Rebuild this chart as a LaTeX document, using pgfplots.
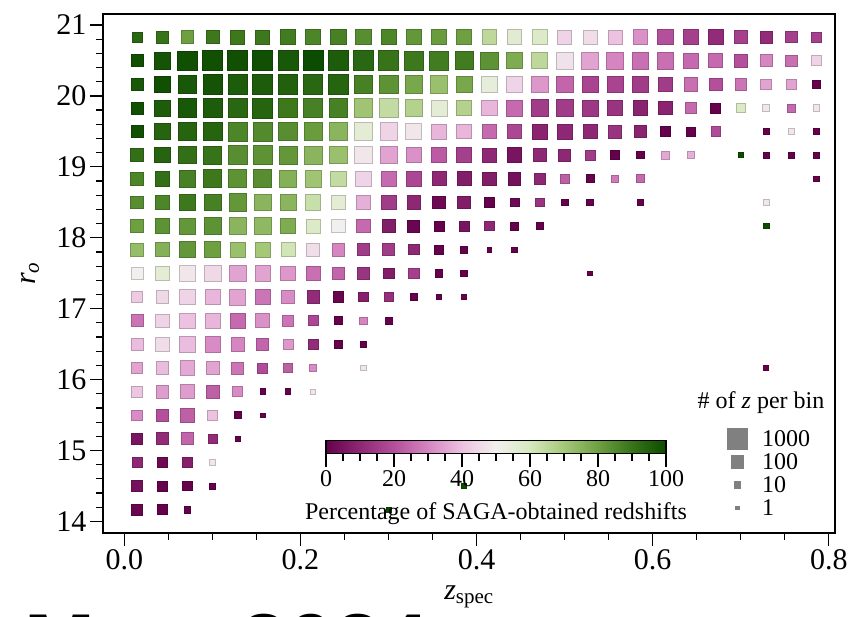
\documentclass[border=0pt]{standalone}
\usepackage{fontspec}
\setmainfont{Liberation Serif}
\newfontfamily\capfont{Liberation Sans}
\usepackage{pgfplots}
\pgfplotsset{compat=1.18}
\usepackage{pgfplotstable}
\definecolor{leggray}{RGB}{128,128,128}
\pgfplotsset{colormap={bam}{rgb255=(101,2,75) rgb255=(142,40,117) rgb255=(180,80,155) rgb255=(214,133,193) rgb255=(236,194,224) rgb255=(242,240,238) rgb255=(214,232,190) rgb255=(165,200,120) rgb255=(110,160,65) rgb255=(55,115,25) rgb255=(12,76,0)}}
\newcommand{\legsq}[1]{\addlegendimage{legend image code/.code={\path[draw=none,fill=none] (-11.5pt,-11.5pt) rectangle (11.5pt,11.5pt); \fill[leggray,draw=none] (-#1pt,-#1pt) rectangle (#1pt,#1pt);}}}

\pgfplotstableread{
z r n p
0.0143 20.833 30 93
0.0429 20.833 67 90
0.0714 20.833 85 80
0.1000 20.833 107 89
0.1286 20.833 133 89
0.1571 20.833 133 89
0.1857 20.833 164 88
0.2143 20.833 200 86
0.2429 20.833 200 87
0.2714 20.833 200 84
0.3000 20.833 200 86
0.3286 20.833 200 82
0.3571 20.833 200 81
0.3857 20.833 200 80
0.4143 20.833 164 65
0.4429 20.833 164 56
0.4714 20.833 164 58
0.5000 20.833 133 44
0.5286 20.833 133 46
0.5571 20.833 133 40
0.5857 20.833 164 32
0.6143 20.833 200 20
0.6429 20.833 164 16
0.6714 20.833 164 11
0.7000 20.833 85 16
0.7286 20.833 67 11
0.7571 20.833 52 16
0.7857 20.833 30 16
0.0143 20.5 67 99
0.0429 20.5 292 98
0.0714 20.5 567 99
0.1000 20.5 660 99
0.1286 20.5 660 99
0.1571 20.5 660 99
0.1857 20.5 660 97
0.2143 20.5 660 100
0.2429 20.5 660 96
0.2714 20.5 660 93
0.3000 20.5 660 90
0.3286 20.5 485 89
0.3571 20.5 485 88
0.3857 20.5 412 88
0.4143 20.5 348 83
0.4429 20.5 243 77
0.4714 20.5 243 65
0.5000 20.5 292 47
0.5286 20.5 292 35
0.5571 20.5 292 30
0.5857 20.5 292 26
0.6143 20.5 292 26
0.6429 20.5 200 25
0.6714 20.5 133 25
0.7000 20.5 107 20
0.7286 20.5 67 30
0.7571 20.5 52 26
0.7857 20.5 30 44
0.0143 20.167 67 97
0.0429 20.167 292 99
0.0714 20.167 485 97
0.1000 20.167 567 98
0.1286 20.167 567 96
0.1571 20.167 660 96
0.1857 20.167 567 95
0.2143 20.167 567 93
0.2429 20.167 567 94
0.2714 20.167 485 87
0.3000 20.167 485 83
0.3286 20.167 348 78
0.3571 20.167 348 72
0.3857 20.167 243 78
0.4143 20.167 243 54
0.4429 20.167 243 44
0.4714 20.167 292 33
0.5000 20.167 292 24
0.5286 20.167 243 17
0.5571 20.167 243 17
0.5857 20.167 243 15
0.6143 20.167 164 15
0.6429 20.167 107 26
0.6714 20.167 85 20
0.7000 20.167 52 27
0.7286 20.167 39 35
0.7571 20.167 22 35
0.7857 20.167 11 0
0.0143 19.833 67 99
0.0429 19.833 243 96
0.0714 19.833 485 97
0.1000 19.833 567 96
0.1286 19.833 567 93
0.1571 19.833 660 94
0.1857 19.833 567 89
0.2143 19.833 567 87
0.2429 19.833 485 87
0.2714 19.833 485 71
0.3000 19.833 485 64
0.3286 19.833 292 67
0.3571 19.833 243 55
0.3857 19.833 200 67
0.4143 19.833 200 38
0.4429 19.833 243 25
0.4714 19.833 292 15
0.5000 19.833 292 15
0.5286 19.833 243 14
0.5571 19.833 200 13
0.5857 19.833 164 9
0.6143 19.833 107 9
0.6429 19.833 52 25
0.6714 19.833 30 0
0.7000 19.833 16 58
0.7286 19.833 7 48
0.7571 19.833 11 25
0.7857 19.833 5 48
0.0143 19.5 67 99
0.0429 19.5 243 94
0.0714 19.5 348 94
0.1000 19.5 485 94
0.1286 19.5 567 86
0.1571 19.5 567 85
0.1857 19.5 485 84
0.2143 19.5 485 81
0.2429 19.5 412 75
0.2714 19.5 412 55
0.3000 19.5 348 44
0.3286 19.5 243 48
0.3571 19.5 200 38
0.3857 19.5 164 38
0.4143 19.5 164 25
0.4429 19.5 164 18
0.4714 19.5 200 9
0.5000 19.5 200 10
0.5286 19.5 133 10
0.5571 19.5 107 13
0.5857 19.5 67 9
0.6143 19.5 30 0
0.6429 19.5 16 0
0.6714 19.5 22 19
0.7286 19.5 2 0
0.7571 19.5 2 48
0.7857 19.5 2 0
0.0143 19.167 85 91
0.0429 19.167 200 94
0.0714 19.167 348 91
0.1000 19.167 412 90
0.1286 19.167 485 84
0.1571 19.167 485 83
0.1857 19.167 412 82
0.2143 19.167 412 75
0.2429 19.167 348 72
0.2714 19.167 348 48
0.3000 19.167 292 35
0.3286 19.167 200 32
0.3571 19.167 200 22
0.3857 19.167 200 16
0.4143 19.167 133 10
0.4429 19.167 164 5
0.4714 19.167 107 10
0.5000 19.167 67 10
0.5286 19.167 30 15
0.5571 19.167 16 0
0.5857 19.167 7 0
0.6143 19.167 11 36
0.6429 19.167 7 37
0.7000 19.167 1 100
0.7286 19.167 2 0
0.7571 19.167 2 0
0.7857 19.167 2 0
0.0143 18.833 107 86
0.0429 18.833 164 91
0.0714 18.833 292 87
0.1000 18.833 412 89
0.1286 18.833 412 83
0.1571 18.833 412 84
0.1857 18.833 348 76
0.2143 18.833 292 71
0.2429 18.833 200 64
0.2714 18.833 200 44
0.3000 18.833 200 25
0.3286 18.833 164 18
0.3571 18.833 133 10
0.3857 18.833 133 7
0.4143 18.833 107 7
0.4429 18.833 85 4
0.4714 18.833 39 10
0.5000 18.833 16 23
0.5286 18.833 11 0
0.5571 18.833 7 28
0.5857 18.833 11 25
0.7857 18.833 2 0
0.0143 18.5 85 84
0.0429 18.5 164 86
0.0714 18.5 243 89
0.1000 18.5 292 87
0.1286 18.5 348 82
0.1571 18.5 292 75
0.1857 18.5 243 75
0.2143 18.5 200 63
0.2429 18.5 133 55
0.2714 18.5 133 37
0.3000 18.5 164 15
0.3286 18.5 107 10
0.3571 18.5 85 2
0.3857 18.5 85 7
0.4143 18.5 30 0
0.4429 18.5 16 2
0.4714 18.5 16 13
0.5000 18.5 5 0
0.5286 18.5 5 0
0.5857 18.5 2 0
0.7286 18.5 2 48
0.0143 18.167 107 80
0.0429 18.167 164 83
0.0714 18.167 243 82
0.1000 18.167 348 83
0.1286 18.167 348 75
0.1571 18.167 292 74
0.1857 18.167 200 77
0.2143 18.167 133 58
0.2429 18.167 107 50
0.2714 18.167 107 25
0.3000 18.167 107 7
0.3286 18.167 67 1
0.3571 18.167 30 0
0.3857 18.167 30 5
0.4143 18.167 22 10
0.4429 18.167 11 0
0.4714 18.167 7 0
0.7286 18.167 2 100
0.0143 17.833 85 73
0.0429 17.833 133 76
0.0714 17.833 243 82
0.1000 17.833 243 80
0.1286 17.833 200 72
0.1571 17.833 164 70
0.1857 17.833 133 61
0.2143 17.833 107 46
0.2429 17.833 85 30
0.2714 17.833 67 15
0.3000 17.833 67 15
0.3286 17.833 30 10
0.3571 17.833 22 0
0.3857 17.833 7 0
0.4143 17.833 1 0
0.4429 17.833 2 0
0.0143 17.5 67 50
0.0429 17.5 133 55
0.0714 17.5 243 48
0.1000 17.5 292 45
0.1286 17.5 292 35
0.1571 17.5 200 35
0.1857 17.5 164 33
0.2143 17.5 133 26
0.2429 17.5 85 24
0.2714 17.5 52 13
0.3000 17.5 39 7
0.3286 17.5 30 16
0.3571 17.5 7 0
0.3857 17.5 5 0
0.5286 17.5 1 0
0.0143 17.167 52 42
0.0429 17.167 85 45
0.0714 17.167 200 44
0.1000 17.167 200 38
0.1286 17.167 243 35
0.1571 17.167 200 27
0.1857 17.167 107 31
0.2143 17.167 85 11
0.2429 17.167 39 1
0.2714 17.167 22 8
0.3000 17.167 16 12
0.3286 17.167 7 0
0.3571 17.167 2 0
0.3857 17.167 1 0
0.0143 16.833 67 27
0.0429 16.833 107 44
0.0714 16.833 200 40
0.1000 16.833 200 38
0.1286 16.833 164 25
0.1571 16.833 133 32
0.1857 16.833 52 27
0.2143 16.833 30 18
0.2429 16.833 11 0
0.2714 16.833 7 30
0.3000 16.833 5 0
0.0143 16.5 67 39
0.0429 16.5 107 46
0.0714 16.5 200 39
0.1000 16.5 200 31
0.1286 16.5 107 30
0.1571 16.5 67 24
0.1857 16.5 30 33
0.2143 16.5 22 11
0.2429 16.5 7 0
0.2714 16.5 2 0
0.0143 16.167 52 35
0.0429 16.167 85 39
0.0714 16.167 164 36
0.1000 16.167 107 35
0.1286 16.167 67 27
0.1571 16.167 30 19
0.1857 16.167 22 23
0.2143 16.167 5 31
0.2714 16.167 2 48
0.7286 16.167 1 0
0.0143 15.833 39 41
0.0429 15.833 85 34
0.0714 15.833 133 34
0.1000 15.833 85 23
0.1286 15.833 30 31
0.1571 15.833 2 0
0.1857 15.833 2 0
0.2143 15.833 1 48
0.0143 15.5 39 31
0.0429 15.5 85 20
0.0714 15.5 107 23
0.1000 15.5 30 40
0.1286 15.5 5 0
0.1571 15.5 1 0
0.0143 15.167 39 5
0.0429 15.167 67 11
0.0714 15.167 67 24
0.1000 15.167 16 11
0.1286 15.167 1 0
0.0143 14.833 30 10
0.0429 14.833 39 2
0.0714 14.833 30 8
0.1000 14.833 2 48
0.0143 14.5 39 4
0.0429 14.5 30 0
0.0714 14.5 22 0
0.1000 14.5 2 0
0.3857 14.5 1 100
0.0143 14.167 39 1
0.0429 14.167 30 0
0.0714 14.167 5 0
0.3000 14.167 1 100
}\cells

\begin{document}
\begin{tikzpicture}
\begin{axis}[
  at={(0pt,0pt)}, anchor=south west,
  scale only axis, width=732pt, height=519pt,
  xmin=-0.0242, xmax=0.807, ymin=13.837, ymax=21.155,
  xtick={0,0.2,0.4,0.6,0.8}, minor x tick num=3,
  ytick={14,15,16,17,18,19,20,21}, minor y tick num=4,
  tick pos=left, tick align=outside,
  major tick length=13pt, minor tick length=7pt,
  tick style={line width=1.2pt, black},
  axis line style={line width=1.2pt},
  xticklabel style={/pgf/number format/fixed, /pgf/number format/fixed zerofill, /pgf/number format/precision=1},
  /pgf/number format/assume math mode=true,
  ticklabel style={font=\fontsize{30}{36}\selectfont},
  label style={font=\fontsize{30}{36}\selectfont},
  xlabel={\textit{z}\textsubscript{spec}},
  ylabel={\textit{r}\textsubscript{\textit{o}}},
  xlabel style={at={(axis description cs:0.5,0)}, anchor=base, yshift=-67pt},
  ylabel style={at={(axis description cs:0,0.5)}, anchor=center, yshift=73pt},
  colormap name=bam,
  point meta min=0, point meta max=100,
  colorbar horizontal,
  colorbar style={
    at={(223pt,101pt)}, anchor=north west,
    scale only axis, width=340pt, height=13pt,
    xtick={0,20,40,60,80,100}, minor x tick num=3,
    tick pos=left, tick align=outside,
    xticklabel pos=lower,
    major tick length=13pt, minor tick length=7pt,
    tick style={line width=1.2pt, black},
    axis line style={line width=1.2pt},
    /pgf/number format/assume math mode=true,
    ticklabel style={font=\fontsize{24}{29}\selectfont},
    xlabel={Percentage of SAGA-obtained redshifts},
    xlabel style={font=\fontsize{24}{29}\selectfont, at={(axis description cs:0.5,0)}, anchor=base, yshift=-66pt},
  },
  legend style={at={(0.8511,0.2033)}, anchor=north west, draw=none, fill=none,
    inner sep=0pt, outer sep=0pt, font=\fontsize{24}{29}\selectfont,
    row sep=0pt, nodes={inner sep=0pt},
    /tikz/every odd column/.append style={column sep=13pt}},
  legend cell align=left,
]
\addplot[scatter, only marks, mark=square*, forget plot,
  point meta=\thisrow{p},
  visualization depends on={2.35*(\thisrow{n})^0.223 \as \msize},
  scatter/@pre marker code/.append style={/tikz/mark size=\msize pt}]
  table[x=z, y=r] {\cells};
\legsq{10.97}\addlegendentry{1000}
\legsq{6.56}\addlegendentry{100}
\legsq{3.93}\addlegendentry{10}
\legsq{2.35}\addlegendentry{1}
\node[anchor=base, font=\fontsize{24}{29}\selectfont] at (axis description cs:0.8989,0.2408) {\# of \textit{z} per bin};
\end{axis}
\pgfresetboundingbox
\path[use as bounding box] (-103pt,-84pt) rectangle (745pt,533pt);
\node[anchor=base west, inner sep=0pt, font=\capfont\bfseries\fontsize{85}{85}\selectfont] at (-79pt,-141pt) {M};
\node[anchor=base west, inner sep=0pt, font=\capfont\bfseries\fontsize{85}{85}\selectfont] at (137pt,-141pt) {2024};
\end{tikzpicture}
\end{document}
